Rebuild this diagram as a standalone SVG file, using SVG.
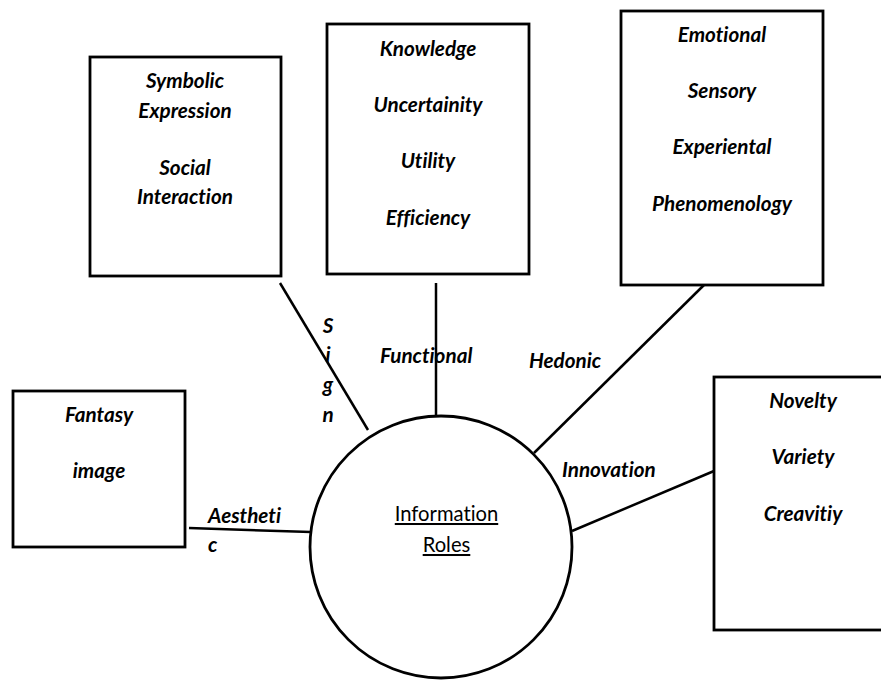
<svg xmlns="http://www.w3.org/2000/svg" width="881" height="680" viewBox="0 0 881 680">
<style>
.box{fill:#fff;stroke:#000;stroke-width:2.8}
.ln{stroke:#000;stroke-width:2.5;fill:none}
.t{font-family:Lato,"Liberation Sans",sans-serif;font-weight:bold;font-style:italic;font-size:20.7px;fill:#000;font-variant-ligatures:none}
.c{text-anchor:middle}
.n{font-family:Lato,"Liberation Sans",sans-serif;font-size:20.2px;fill:#000;text-anchor:middle;text-decoration:underline;font-variant-ligatures:none}
</style>
<rect width="881" height="680" fill="#fff"/>
<g id="connectors">
<line class="ln" x1="280" y1="283" x2="368" y2="430"/>
<line class="ln" x1="436" y1="283" x2="436" y2="416"/>
<line class="ln" x1="704" y1="285" x2="534" y2="453"/>
<line class="ln" x1="572" y1="531" x2="714" y2="471"/>
<line class="ln" x1="189" y1="528" x2="311" y2="532"/>
<text class="t" x="328" y="333" text-anchor="middle">S</text>
<text class="t" x="328" y="362" text-anchor="middle">i</text>
<text class="t" x="328" y="392" text-anchor="middle">g</text>
<text class="t" x="328" y="422" text-anchor="middle">n</text>
<text class="t" x="380" y="363">Functional</text>
<text class="t" x="529" y="368">Hedonic</text>
<text class="t" x="562" y="477">Innovation</text>
<text class="t" x="208" y="523">Aestheti</text>
<text class="t" x="208" y="552">c</text>
</g>
<g id="center">
<circle cx="441" cy="547" r="131" fill="#fff" stroke="#000" stroke-width="2.8"/>
<text class="n" x="446.5" y="521">Information</text>
<text class="n" x="446.5" y="552">Roles</text>
</g>
<g id="symbolic">
<rect class="box" x="90" y="57" width="191" height="219"/>
<text class="t c" x="185" y="88">Symbolic</text>
<text class="t c" x="185" y="118">Expression</text>
<text class="t c" x="185" y="175">Social</text>
<text class="t c" x="185" y="204">Interaction</text>
</g>
<g id="knowledge">
<rect class="box" x="327" y="24" width="202" height="250"/>
<text class="t c" x="428" y="56">Knowledge</text>
<text class="t c" x="428" y="112">Uncertainity</text>
<text class="t c" x="428" y="168">Utility</text>
<text class="t c" x="428" y="225">Efficiency</text>
</g>
<g id="emotional">
<rect class="box" x="621" y="11" width="202" height="274"/>
<text class="t c" x="722" y="42">Emotional</text>
<text class="t c" x="722" y="98">Sensory</text>
<text class="t c" x="722" y="154">Experiental</text>
<text class="t c" x="722" y="211">Phenomenology</text>
</g>
<g id="novelty">
<rect class="box" x="714" y="377" width="178" height="253"/>
<text class="t c" x="803" y="408">Novelty</text>
<text class="t c" x="803" y="464">Variety</text>
<text class="t c" x="803" y="521">Creavitiy</text>
</g>
<g id="fantasy">
<rect class="box" x="13" y="391" width="172" height="156"/>
<text class="t c" x="99" y="422">Fantasy</text>
<text class="t c" x="99" y="478">image</text>
</g>
</svg>
